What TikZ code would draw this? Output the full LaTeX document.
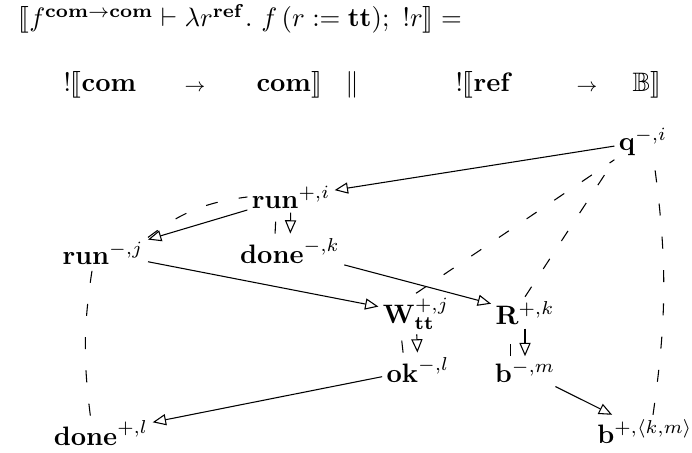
\documentclass[tikz,border=0pt]{standalone}
\usepackage{amsmath,amssymb}
\usepackage{stmaryrd}
\usepackage{tikz}
\usetikzlibrary{arrows.meta}

\begin{document}
\begin{tikzpicture}[
  x=0.375pt, y=-0.375pt,
  mv/.style={inner sep=1.5pt, anchor=base},
  hd/.style={inner sep=0pt, anchor=base west},
  arr/.style={-{Triangle[open,length=5pt,width=4.2pt]}, line width=0.4pt},
  ptr/.style={dash pattern=on 4.5pt off 8pt, line width=0.4pt}
]
\useasboundingbox (0,0) rectangle (692,453);
\node[hd] (lhs) at (18,27) {$\llbracket f^{\mathbf{com}\rightarrow\mathbf{com}} \vdash \lambda r^{\mathbf{ref}}.\ f\,(r := \mathbf{tt});\ !r\rrbracket =$};
\node[hd] (argA) at (63,91) {$!\llbracket\mathbf{com}$};
\node[hd,anchor=base] (toA) at (195,91) {$\scriptstyle\rightarrow$};
\node[hd] (resA) at (256,91) {$\mathbf{com}\rrbracket$};
\node[hd,anchor=base] (par) at (352,91) {$\|$};
\node[hd] (argB) at (455,91) {$!\llbracket\mathbf{ref}$};
\node[hd,anchor=base] (toB) at (587,91) {$\scriptstyle\rightarrow$};
\node[hd] (resB) at (632,91) {$\mathbb{B}\rrbracket$};
\node[mv] (q) at (643,150) {$\mathbf{q}^{-,i}$};
\node[mv] (runp) at (291,208) {$\mathbf{run}^{+,i}$};
\node[mv] (runm) at (103,264) {$\mathbf{run}^{-,j}$};
\node[mv] (donem) at (290,263) {$\mathbf{done}^{-,k}$};
\node[mv] (W) at (416,323) {$\mathbf{W}^{+,j}_{\mathbf{tt}}$};
\node[mv] (R) at (525,324) {$\mathbf{R}^{+,k}$};
\node[mv] (ok) at (418,382) {$\mathbf{ok}^{-,l}$};
\node[mv] (bm) at (525,382) {$\mathbf{b}^{-,m}$};
\node[mv] (bp) at (645,443) {$\mathbf{b}^{+,\langle k,m\rangle}$};
\node[mv] (donep) at (101,445) {$\mathbf{done}^{+,l}$};
\draw[arr] (q) -- (runp);
\draw[arr] (runp) -- (runm);
\draw[arr] (runp) -- (donem);
\draw[arr] (runm) -- (W);
\draw[arr] (donem) -- (R);
\draw[arr] (W) -- (ok);
\draw[arr] (R) -- (bm);
\draw[arr] (ok) -- (donep);
\draw[arr] (bm) -- (bp);
\draw[ptr] (runm.north east) to[bend left=15] (runp.west);
\draw[ptr] ([xshift=-5.6pt]donem.north) -- ([xshift=-5.6pt]runp.south);
\draw[ptr] ([xshift=-4pt]donep.north) to[bend left=8] ([xshift=-4pt]runm.south);
\draw[ptr] (W.north) -- (q.south west);
\draw[ptr] (R.north) -- (q.south west);
\draw[ptr] ([xshift=3pt]bp.north) to[bend right=8] ([xshift=4pt]q.south);
\draw[ptr] ([xshift=-5.6pt]ok.north) -- ([xshift=-5.6pt]W.south);
\draw[ptr] ([xshift=-5.6pt]bm.north) -- ([xshift=-5.6pt]R.south);
\end{tikzpicture}
\end{document}
